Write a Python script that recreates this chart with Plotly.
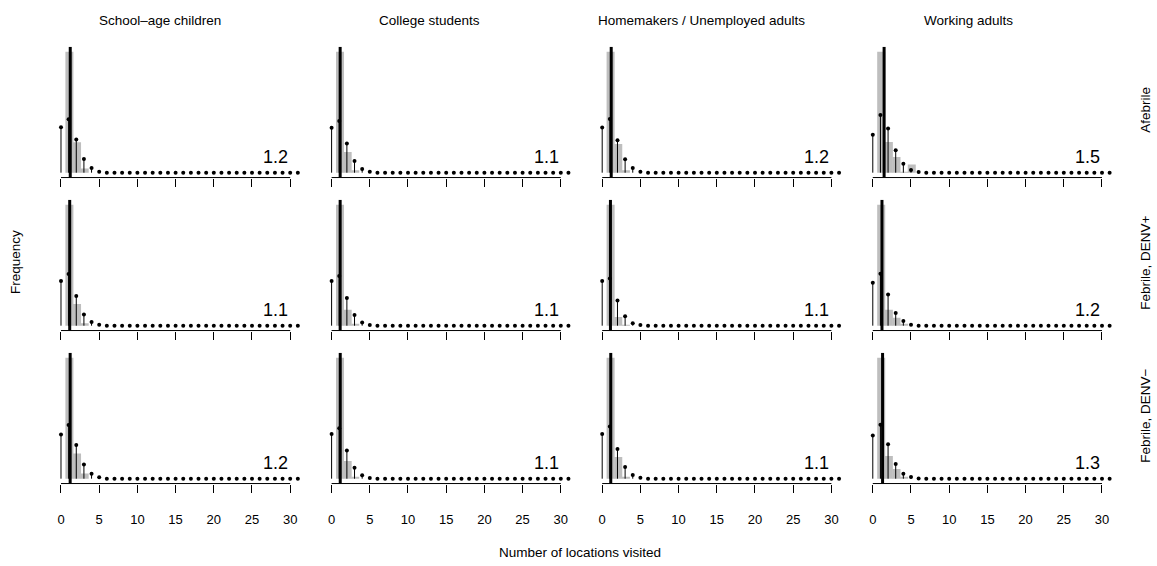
import plotly.graph_objects as go

groups = ["School–age children", "College students", "Homemakers / Unemployed adults", "Working adults"]
statuses = ["Afebrile", "Febrile, DENV+", "Febrile, DENV−"]

# observed share of people by number of locations visited (k = 1, 2, 3, ...)
observed = [
    [[0.776, 0.196, 0.027], [0.840, 0.144, 0.017], [0.796, 0.189, 0.016], [0.686, 0.174, 0.089, 0.003, 0.047]],
    [[0.834, 0.149, 0.017], [0.876, 0.116, 0.009], [0.929, 0.067, 0.005], [0.828, 0.109, 0.055, 0.008]],
    [[0.798, 0.167, 0.035], [0.865, 0.126, 0.009], [0.841, 0.151, 0.008], [0.780, 0.146, 0.062, 0.012]],
]
# fitted distribution (k = 0, 1, 2, ...); remaining values up to 31 are ~0
fitted = [
    [[0.291, 0.342, 0.213, 0.088, 0.030, 0.006], [0.312, 0.359, 0.203, 0.081, 0.025, 0.007],
     [0.298, 0.353, 0.213, 0.088, 0.031, 0.006], [0.215, 0.327, 0.250, 0.127, 0.051, 0.015, 0.004]],
    [[0.308, 0.356, 0.204, 0.078, 0.025, 0.007], [0.323, 0.359, 0.201, 0.077, 0.024, 0.005],
     [0.343, 0.363, 0.194, 0.072, 0.018, 0.005], [0.294, 0.356, 0.214, 0.087, 0.032, 0.007]],
    [[0.292, 0.354, 0.222, 0.093, 0.033, 0.009], [0.319, 0.360, 0.202, 0.079, 0.024, 0.005],
     [0.310, 0.362, 0.206, 0.081, 0.025, 0.007], [0.279, 0.348, 0.222, 0.094, 0.032, 0.011, 0.002]],
]
means = [
    [1.21, 1.12, 1.18, 1.48],
    [1.14, 1.12, 1.08, 1.20],
    [1.20, 1.13, 1.12, 1.28],
]
mean_labels = [["1.2", "1.1", "1.2", "1.5"], ["1.1", "1.1", "1.1", "1.2"], ["1.2", "1.1", "1.1", "1.3"]]
x_ticks = [0, 5, 10, 15, 20, 25, 30]
k_max = 31

W, H = 1157, 566
FONT = "Liberation Sans, Arial, Helvetica, sans-serif"
GRAY = "#BEBEBE"
LABEL_SIZE = 13.5

px_per_unit = 7.64
x_lo, x_hi = -1.24, 32.24
col_zero = [61.0, 331.6, 602.2, 872.8]
row_base = [172.7, 325.7, 478.7]
max_px = 121.0

fig = go.Figure()
annotations = []
shapes = []
layout_axes = {}

n = 0
for r in range(3):
    for c in range(4):
        n += 1
        xa = "x" if n == 1 else f"x{n}"
        ya = "y" if n == 1 else f"y{n}"
        obs = observed[r][c]
        fit = list(fitted[r][c]) + [0.0] * (k_max + 1 - len(fitted[r][c]))
        ymax = max(obs)
        y_lo, y_hi = -0.04 * ymax, 1.04 * ymax

        left = col_zero[c] + x_lo * px_per_unit
        right = col_zero[c] + x_hi * px_per_unit
        top = row_base[r] - 1.04 * max_px
        bottom = row_base[r] + 0.04 * max_px

        # gray bars
        fig.add_trace(go.Bar(
            x=[k + 1.1 for k in range(len(obs))], y=obs, width=1.05,
            marker=dict(color=GRAY, line=dict(width=0)),
            xaxis=xa, yaxis=ya, showlegend=False, hoverinfo="skip"))
        # stems
        sx, sy = [], []
        for k, v in enumerate(fit):
            sx += [k, k, None]
            sy += [0, v, None]
        fig.add_trace(go.Scatter(x=sx, y=sy, mode="lines", line=dict(color="black", width=1),
                                 xaxis=xa, yaxis=ya, showlegend=False, hoverinfo="skip"))
        fig.add_trace(go.Scatter(x=list(range(k_max + 1)), y=fit, mode="markers",
                                 marker=dict(color="black", size=4, line=dict(width=0)),
                                 xaxis=xa, yaxis=ya, showlegend=False, hoverinfo="skip"))
        # mean line
        fig.add_trace(go.Scatter(x=[means[r][c], means[r][c]], y=[y_lo, y_hi], mode="lines",
                                 line=dict(color="black", width=3),
                                 xaxis=xa, yaxis=ya, showlegend=False, hoverinfo="skip"))

        key_x = "xaxis" if n == 1 else f"xaxis{n}"
        key_y = "yaxis" if n == 1 else f"yaxis{n}"
        layout_axes[key_x] = dict(
            domain=[left / W, right / W], range=[x_lo, x_hi], anchor=ya,
            showgrid=False, zeroline=False, showline=False,
            tickmode="array", tickvals=x_ticks, ticktext=[str(t) for t in x_ticks],
            ticks="outside", ticklen=8, tickwidth=1, tickcolor="black",
            showticklabels=(r == 2), ticklabelstandoff=16,
            tickfont=dict(family=FONT, size=13, color="black"),
        )
        layout_axes[key_y] = dict(
            domain=[1 - bottom / H, 1 - top / H], range=[y_lo, y_hi], anchor=xa,
            visible=False, showgrid=False, zeroline=False,
        )
        # axis line from first to last tick
        shapes.append(dict(type="line", xref=xa, yref=f"{ya} domain", x0=x_ticks[0], x1=x_ticks[-1],
                           y0=0, y1=0, line=dict(color="black", width=1)))
        annotations.append(dict(text=mean_labels[r][c], xref=xa, yref=ya, x=30, y=0,
                                xanchor="right", yanchor="bottom", yshift=4, showarrow=False,
                                font=dict(family=FONT, size=18, color="black")))

title_x = [160, 429, 701, 968]
for c, g in enumerate(groups):
    annotations.append(dict(text=g, xref="paper", yref="paper", x=title_x[c] / W, y=1 - 20 / H,
                            xanchor="center", yanchor="middle", showarrow=False,
                            font=dict(family=FONT, size=LABEL_SIZE, color="black")))
for r, s in enumerate(statuses):
    annotations.append(dict(text=s, xref="paper", yref="paper", x=1146 / W,
                            y=1 - (row_base[r] - 0.52 * max_px) / H,
                            xanchor="center", yanchor="middle", textangle=-90, showarrow=False,
                            font=dict(family=FONT, size=LABEL_SIZE, color="black")))
annotations.append(dict(text="Frequency", xref="paper", yref="paper", x=15 / W, y=1 - 262 / H,
                        xanchor="center", yanchor="middle", textangle=-90, showarrow=False,
                        font=dict(family=FONT, size=LABEL_SIZE, color="black")))
annotations.append(dict(text="Number of locations visited", xref="paper", yref="paper", x=580 / W,
                        y=1 - 552 / H, xanchor="center", yanchor="middle", showarrow=False,
                        font=dict(family=FONT, size=LABEL_SIZE, color="black")))

fig.update_layout(
    width=W, height=H, margin=dict(l=0, r=0, t=0, b=0, autoexpand=False),
    paper_bgcolor="white", plot_bgcolor="white", barmode="overlay",
    annotations=annotations, shapes=shapes, showlegend=False,
    **layout_axes,
)
fig.write_html("out.html", config={"displayModeBar": False},
               post_script="document.body.style.margin='0';document.body.style.overflow='hidden';")
